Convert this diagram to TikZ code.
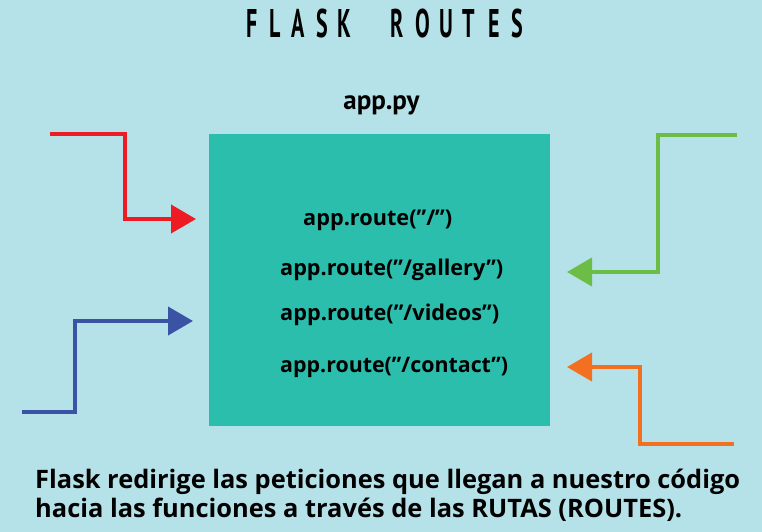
\documentclass[tikz,border=0pt]{standalone}
\usepackage{fontspec}
\setmainfont{Open Sans}
\newfontfamily\ptsans{PT Sans}
\usetikzlibrary{arrows.meta}
\definecolor{bgblue}{HTML}{B5E1E8}
\definecolor{boxteal}{HTML}{2BBEAD}
\definecolor{cred}{HTML}{ED1C24}
\definecolor{cblue}{HTML}{3A53A4}
\definecolor{cgreen}{HTML}{6BBD45}
\definecolor{corange}{HTML}{F37021}
\newcommand{\fitw}[2]{\resizebox{#1}{!}{#2}}
\tikzset{
  route/.style={anchor=base west, inner sep=0pt, font=\bfseries\fontsize{20}{24}\selectfont},
  captext/.style={anchor=base west, inner sep=0pt, font=\bfseries\fontsize{20}{24}\selectfont},
  feed/.style={line width=4pt, -{Triangle[length=25pt,width=28pt]}},
  titlechar/.style={anchor=base, inner sep=0pt, font=\ptsans\fontsize{40}{40}\selectfont\bfseries, xscale=0.55},
}
\begin{document}
\begin{tikzpicture}[x=1pt,y=-1pt]
\fill[bgblue] (0,0) rectangle (762,532);
\useasboundingbox (0,0) rectangle (762,532);
% title
\foreach \ch/\xx [count=\i] in {F/252,L/275,A/298,S/322,K/344,R/397,O/423,U/446,T/469,E/494,S/517}
  \node[titlechar] (t\i) at (\xx,38) {\ch};
\node[anchor=base, inner sep=0pt, font=\ptsans\bfseries\fontsize{27}{30}\selectfont] (file) at (381.5,110) {app.py};
% box
\node[fill=boxteal, minimum width=341pt, minimum height=292pt, inner sep=0pt] (app) at (379.5,280) {};
\node[route] (r1) at (303,225) {\fitw{149pt}{app.route(”/”)}};
\node[route] (r2) at (280,275) {\fitw{223pt}{app.route(”/gallery”)}};
\node[route] (r3) at (280,320) {\fitw{219pt}{app.route(”/videos”)}};
\node[route] (r4) at (280,372) {\fitw{228pt}{app.route(”/contact”)}};
% arrows
\coordinate (a0) at (50,134);
\coordinate (a1) at (196,219);
\draw[feed, cred] (a0) -| (125,219) -- (a1);
\coordinate (b0) at (22,412);
\coordinate (b1) at (193,321);
\draw[feed, cblue] (b0) -| (75,321) -- (b1);
\coordinate (c0) at (737,135);
\coordinate (c1) at (567,272);
\draw[feed, cgreen] (c0) -| (658,272) -- (c1);
\coordinate (d0) at (734,444);
\coordinate (d1) at (567,367);
\draw[feed, corange] (d0) -| (640,367) -- (d1);
% caption
\node[captext] (cap1) at (35,488) {\fitw{705pt}{Flask redirige las peticiones que llegan a nuestro código}};
\node[captext] (cap2) at (35,517) {\fitw{647pt}{hacia las funciones a través de las RUTAS (ROUTES).}};
\end{tikzpicture}
\end{document}
